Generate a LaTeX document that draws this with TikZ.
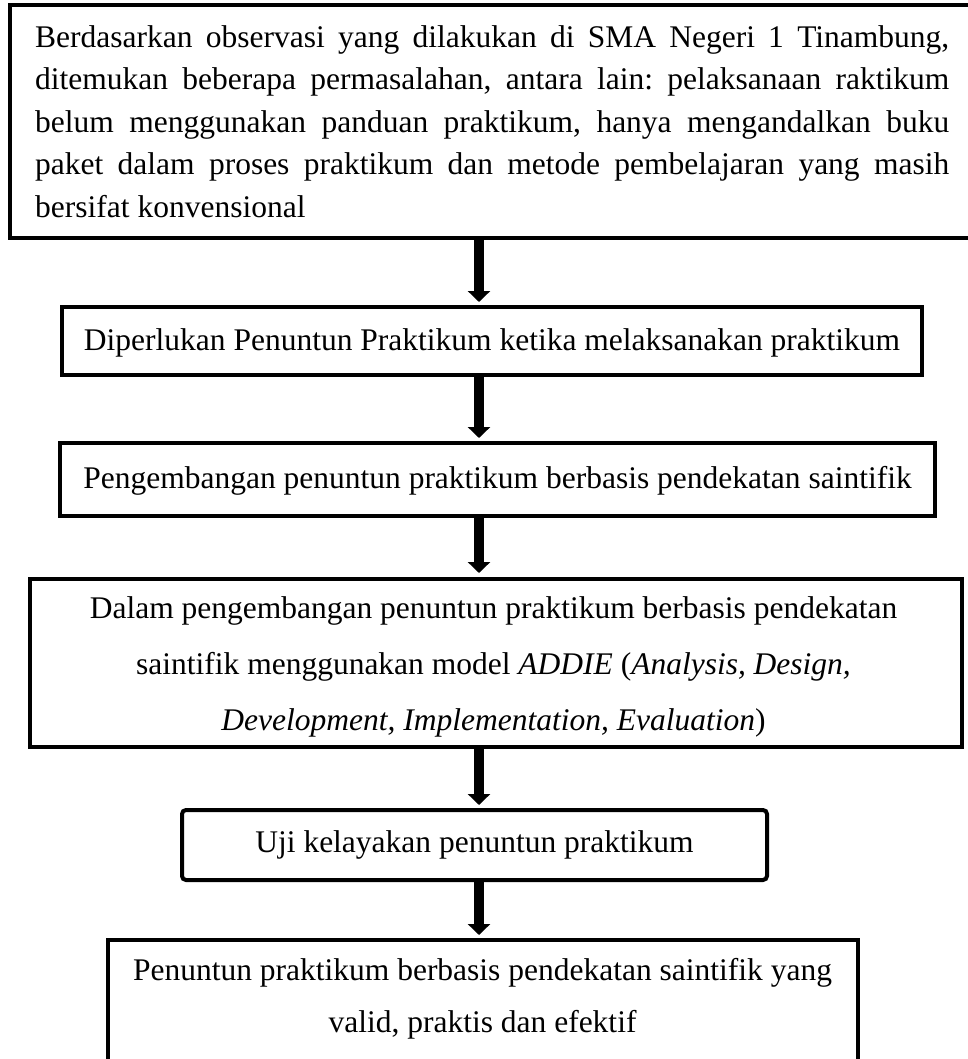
\documentclass[tikz,border=0pt]{standalone}
\usepackage{fontspec}
\setmainfont{Liberation Serif}
\usetikzlibrary{arrows.meta}
\frenchspacing
\newcommand{\tstrut}{\rule{0pt}{24pt}}
\begin{document}
\begin{tikzpicture}[x=1pt,y=-1pt,
  box/.style={draw=black, line width=4pt, inner sep=0pt, fill=none},
  txt/.style={inner sep=0pt, anchor=north, text=black},
  arr/.style={line width=10pt, -{Triangle[width=22pt,length=11pt]}}]
\useasboundingbox (0,0) rectangle (968,1059);
\fill[white] (0,0) rectangle (968,1059);
% boxes
\node[box, minimum width=964pt, minimum height=233pt] (b1) at (492,121.5) {};
\node[box, minimum width=860pt, minimum height=68pt] (b2) at (492,341) {};
\node[box, minimum width=875pt, minimum height=72.5pt] (b3) at (497.5,479.25) {};
\node[box, minimum width=932pt, minimum height=168pt] (b4) at (496,663) {};
\node[box, rounded corners=4pt, minimum width=585pt, minimum height=70pt] (b5) at (474.5,845) {};
\node[box, minimum width=750pt, minimum height=170pt] (b6) at (483,1025) {};
% texts
\node[txt, anchor=north west, text width=914pt, align=justify,
  font=\fontsize{31.5}{42.5}\selectfont\frenchspacing] (t1) at (35,23)
  {\tstrut Berdasarkan observasi yang dilakukan di SMA Negeri 1 Tinambung,\linebreak
   ditemukan beberapa permasalahan, antara lain: pelaksanaan raktikum\linebreak
   belum menggunakan panduan praktikum, hanya mengandalkan buku\linebreak
   paket dalam proses praktikum dan metode pembelajaran yang masih\linebreak
   bersifat konvensional};
\node[txt, font=\fontsize{31.5}{42.5}\selectfont] (t2) at (492,326)
  {\tstrut Diperlukan Penuntun Praktikum ketika melaksanakan praktikum};
\node[txt, font=\fontsize{31.5}{42.5}\selectfont] (t3) at (497.5,464)
  {\tstrut Pengembangan penuntun praktikum berbasis pendekatan saintifik};
\node[txt, align=center, font=\fontsize{31.5}{56}\selectfont\frenchspacing] (t4) at (493.5,594)
  {\tstrut Dalam pengembangan penuntun praktikum berbasis pendekatan\\
   saintifik menggunakan model \textit{ADDIE} (\textit{Analysis, Design,}\\
   \textit{Development, Implementation, Evaluation})};
\node[txt, font=\fontsize{31.5}{42.5}\selectfont] (t5) at (474.5,828)
  {\tstrut Uji kelayakan penuntun praktikum};
\node[txt, align=center, font=\fontsize{31.5}{52}\selectfont\frenchspacing] (t6) at (482.5,956)
  {\tstrut Penuntun praktikum berbasis pendekatan saintifik yang\\
   valid, praktis dan efektif};
% arrows
\coordinate (ax) at (479,0);
\draw[arr, shorten >=3pt] (b1.south -| ax) -- (b2.north -| ax);
\draw[arr, shorten >=3pt] (b2.south -| ax) -- (b3.north -| ax);
\draw[arr, shorten >=4pt] (b3.south -| ax) -- (b4.north -| ax);
\draw[arr, shorten >=3pt] (b4.south -| ax) -- (b5.north -| ax);
\draw[arr, shorten >=3pt] (b5.south -| ax) -- (b6.north -| ax);
\end{tikzpicture}
\end{document}
